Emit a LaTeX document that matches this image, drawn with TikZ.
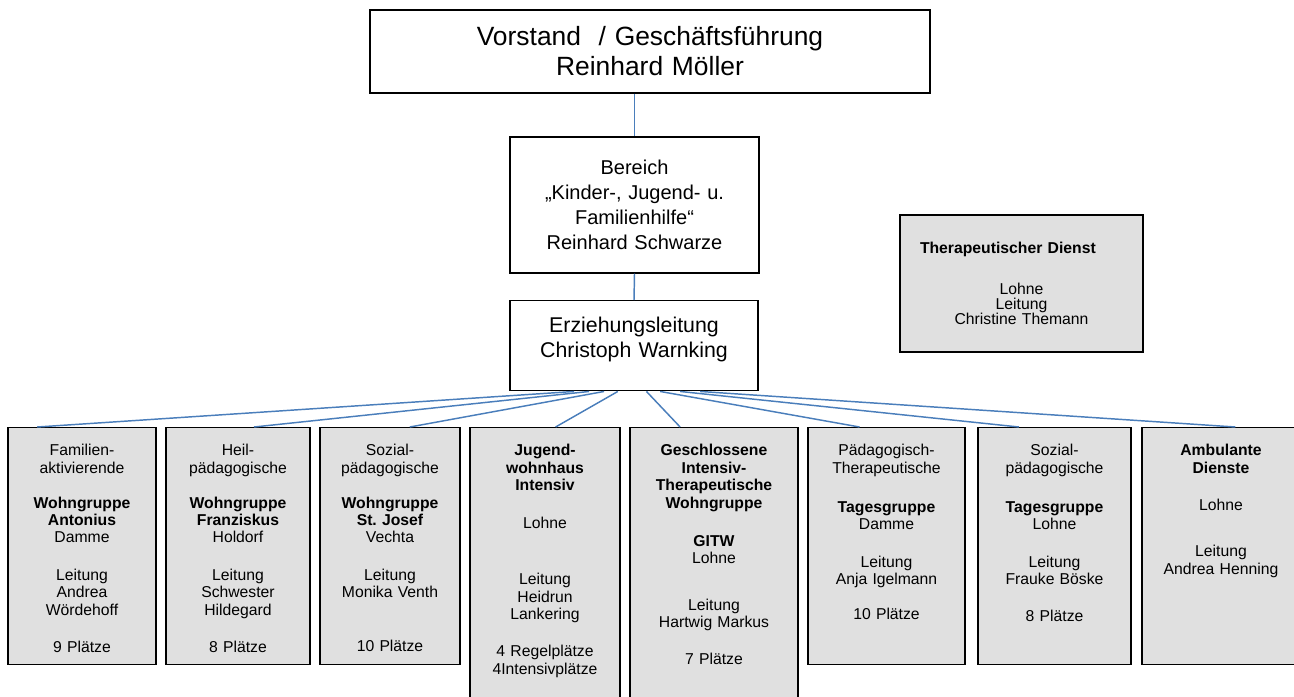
\documentclass[tikz,border=0pt]{standalone}
\usepackage{fontspec}
\setmainfont{Liberation Sans}
\usetikzlibrary{calc}
\definecolor{linie}{HTML}{4A7EBB}
\definecolor{kasten}{HTML}{E0E0E0}

\begin{document}
\begin{tikzpicture}[x=0.75pt,y=-0.75pt,
  leitung/.style={draw,line width=1.1pt,align=center,inner sep=0pt},
  gruppe/.style={draw,line width=1.1pt,fill=kasten,anchor=north,align=center,
    inner sep=0pt,text width=#1,text height=21pt,text depth=156.75pt,
    font=\fontsize{11.8}{13.1}\selectfont},
  lang/.style={text depth=189pt},
  verbindung/.style={draw=linie,line width=1.1pt}]
\useasboundingbox (0,0) rectangle (1294,696);
\clip (0,0) rectangle (1294,696);

\node[leitung,text width=420pt,minimum height=62.25pt,
  font=\fontsize{19.8}{22.5}\selectfont] (vorstand) at (650,51.5)
  {Vorstand~ / Gesch\"aftsf\"uhrung\\Reinhard M\"oller};
\node[leitung,text width=186.75pt,minimum height=102pt,
  font=\fontsize{15}{18.75}\selectfont] (bereich) at (634.5,205)
  {Bereich\\„Kinder-, Jugend- u.\\Familienhilfe“\\Reinhard Schwarze};
\node[leitung,anchor=north,text width=186pt,text height=23.6pt,text depth=43.9pt,
  font=\fontsize{16}{18.75}\selectfont] (erz) at (634,300)
  {Erziehungsleitung\\Christoph Warnking};
\node[leitung,fill=kasten,text width=152.25pt,minimum width=182.25pt,minimum height=102.75pt,
  font=\fontsize{11.8}{11.25}\selectfont] (therapie) at (1021.5,283.5)
  {\makebox[\linewidth][l]{\textbf{Therapeutischer Dienst}}\\[19pt]
   Lohne\\Leitung\\Christine Themann};

% Wohngruppen und Dienste
\node[gruppe=111pt] (g1) at (82,427)
  {Familien-\\aktivierende\\[13pt]\textbf{Wohngruppe}\\\textbf{Antonius}\\Damme\\[15pt]
   Leitung\\Andrea\\W\"ordehoff\\[14.6pt]9 Pl\"atze};
\node[gruppe=108pt] (g2) at (238,427)
  {Heil-\\p\"adagogische\\[13pt]\textbf{Wohngruppe}\\\textbf{Franziskus}\\Holdorf\\[15pt]
   Leitung\\Schwester\\Hildegard\\[14.6pt]8 Pl\"atze};
\node[gruppe=105pt] (g3) at (390,427)
  {Sozial-\\p\"adagogische\\[13pt]\textbf{Wohngruppe}\\\textbf{St.\ Josef}\\Vechta\\[15pt]
   Leitung\\Monika Venth\\[27.4pt]10 Pl\"atze};
\node[gruppe=112.5pt,lang] (g4) at (545,427)
  {\textbf{Jugend-}\\\textbf{wohnhaus}\\\textbf{Intensiv}\\[15.4pt]Lohne\\[29pt]
   Leitung\\Heidrun\\Lankering\\[14.6pt]4 Regelpl\"atze\\4Intensivpl\"atze};
\node[gruppe=126pt,lang] (g5) at (714,427)
  {\textbf{Geschlossene}\\\textbf{Intensiv-}\\\textbf{Therapeutische}\\\textbf{Wohngruppe}\\[15.4pt]
   \textbf{GITW}\\Lohne\\[22pt]Leitung\\Hartwig Markus\\[14.6pt]7 Pl\"atze};
\node[gruppe=117.75pt] (g6) at (886.5,427)
  {P\"adagogisch-\\Therapeutische\\[16pt]\textbf{Tagesgruppe}\\Damme\\[15.4pt]
   Leitung\\Anja Igelmann\\[13pt]10 Pl\"atze};
\node[gruppe=114.75pt] (g7) at (1054.5,427)
  {Sozial-\\p\"adagogische\\[16pt]\textbf{Tagesgruppe}\\Lohne\\[15.4pt]
   Leitung\\Frauke B\"oske\\[14pt]8 Pl\"atze};
\node[gruppe=118.5pt] (g8) at (1221,427)
  {\textbf{Ambulante}\\\textbf{Dienste}\\[14.6pt]Lohne\\[22pt]
   Leitung\\Andrea Henning};

\path[verbindung]
  (vorstand.south -| bereich.north) edge (bereich.north)
  (bereich.south) edge (erz.north)
  ($(erz.south west)!0.26!(erz.south east)$) edge ($(g1.north west)!0.2!(g1.north east)$)
  ($(erz.south west)!0.32!(erz.south east)$) edge ($(g2.north west)!0.61!(g2.north east)$)
  ($(erz.south west)!0.38!(erz.south east)$) edge ($(g3.north west)!0.64!(g3.north east)$)
  ($(erz.south west)!0.435!(erz.south east)$) edge ($(g4.north west)!0.57!(g4.north east)$)
  ($(erz.south west)!0.55!(erz.south east)$) edge ($(g5.north west)!0.3!(g5.north east)$)
  ($(erz.south west)!0.605!(erz.south east)$) edge ($(g6.north west)!0.33!(g6.north east)$)
  ($(erz.south west)!0.685!(erz.south east)$) edge ($(g7.north west)!0.27!(g7.north east)$)
  ($(erz.south west)!0.765!(erz.south east)$) edge ($(g8.north west)!0.59!(g8.north east)$);
\end{tikzpicture}
\end{document}
